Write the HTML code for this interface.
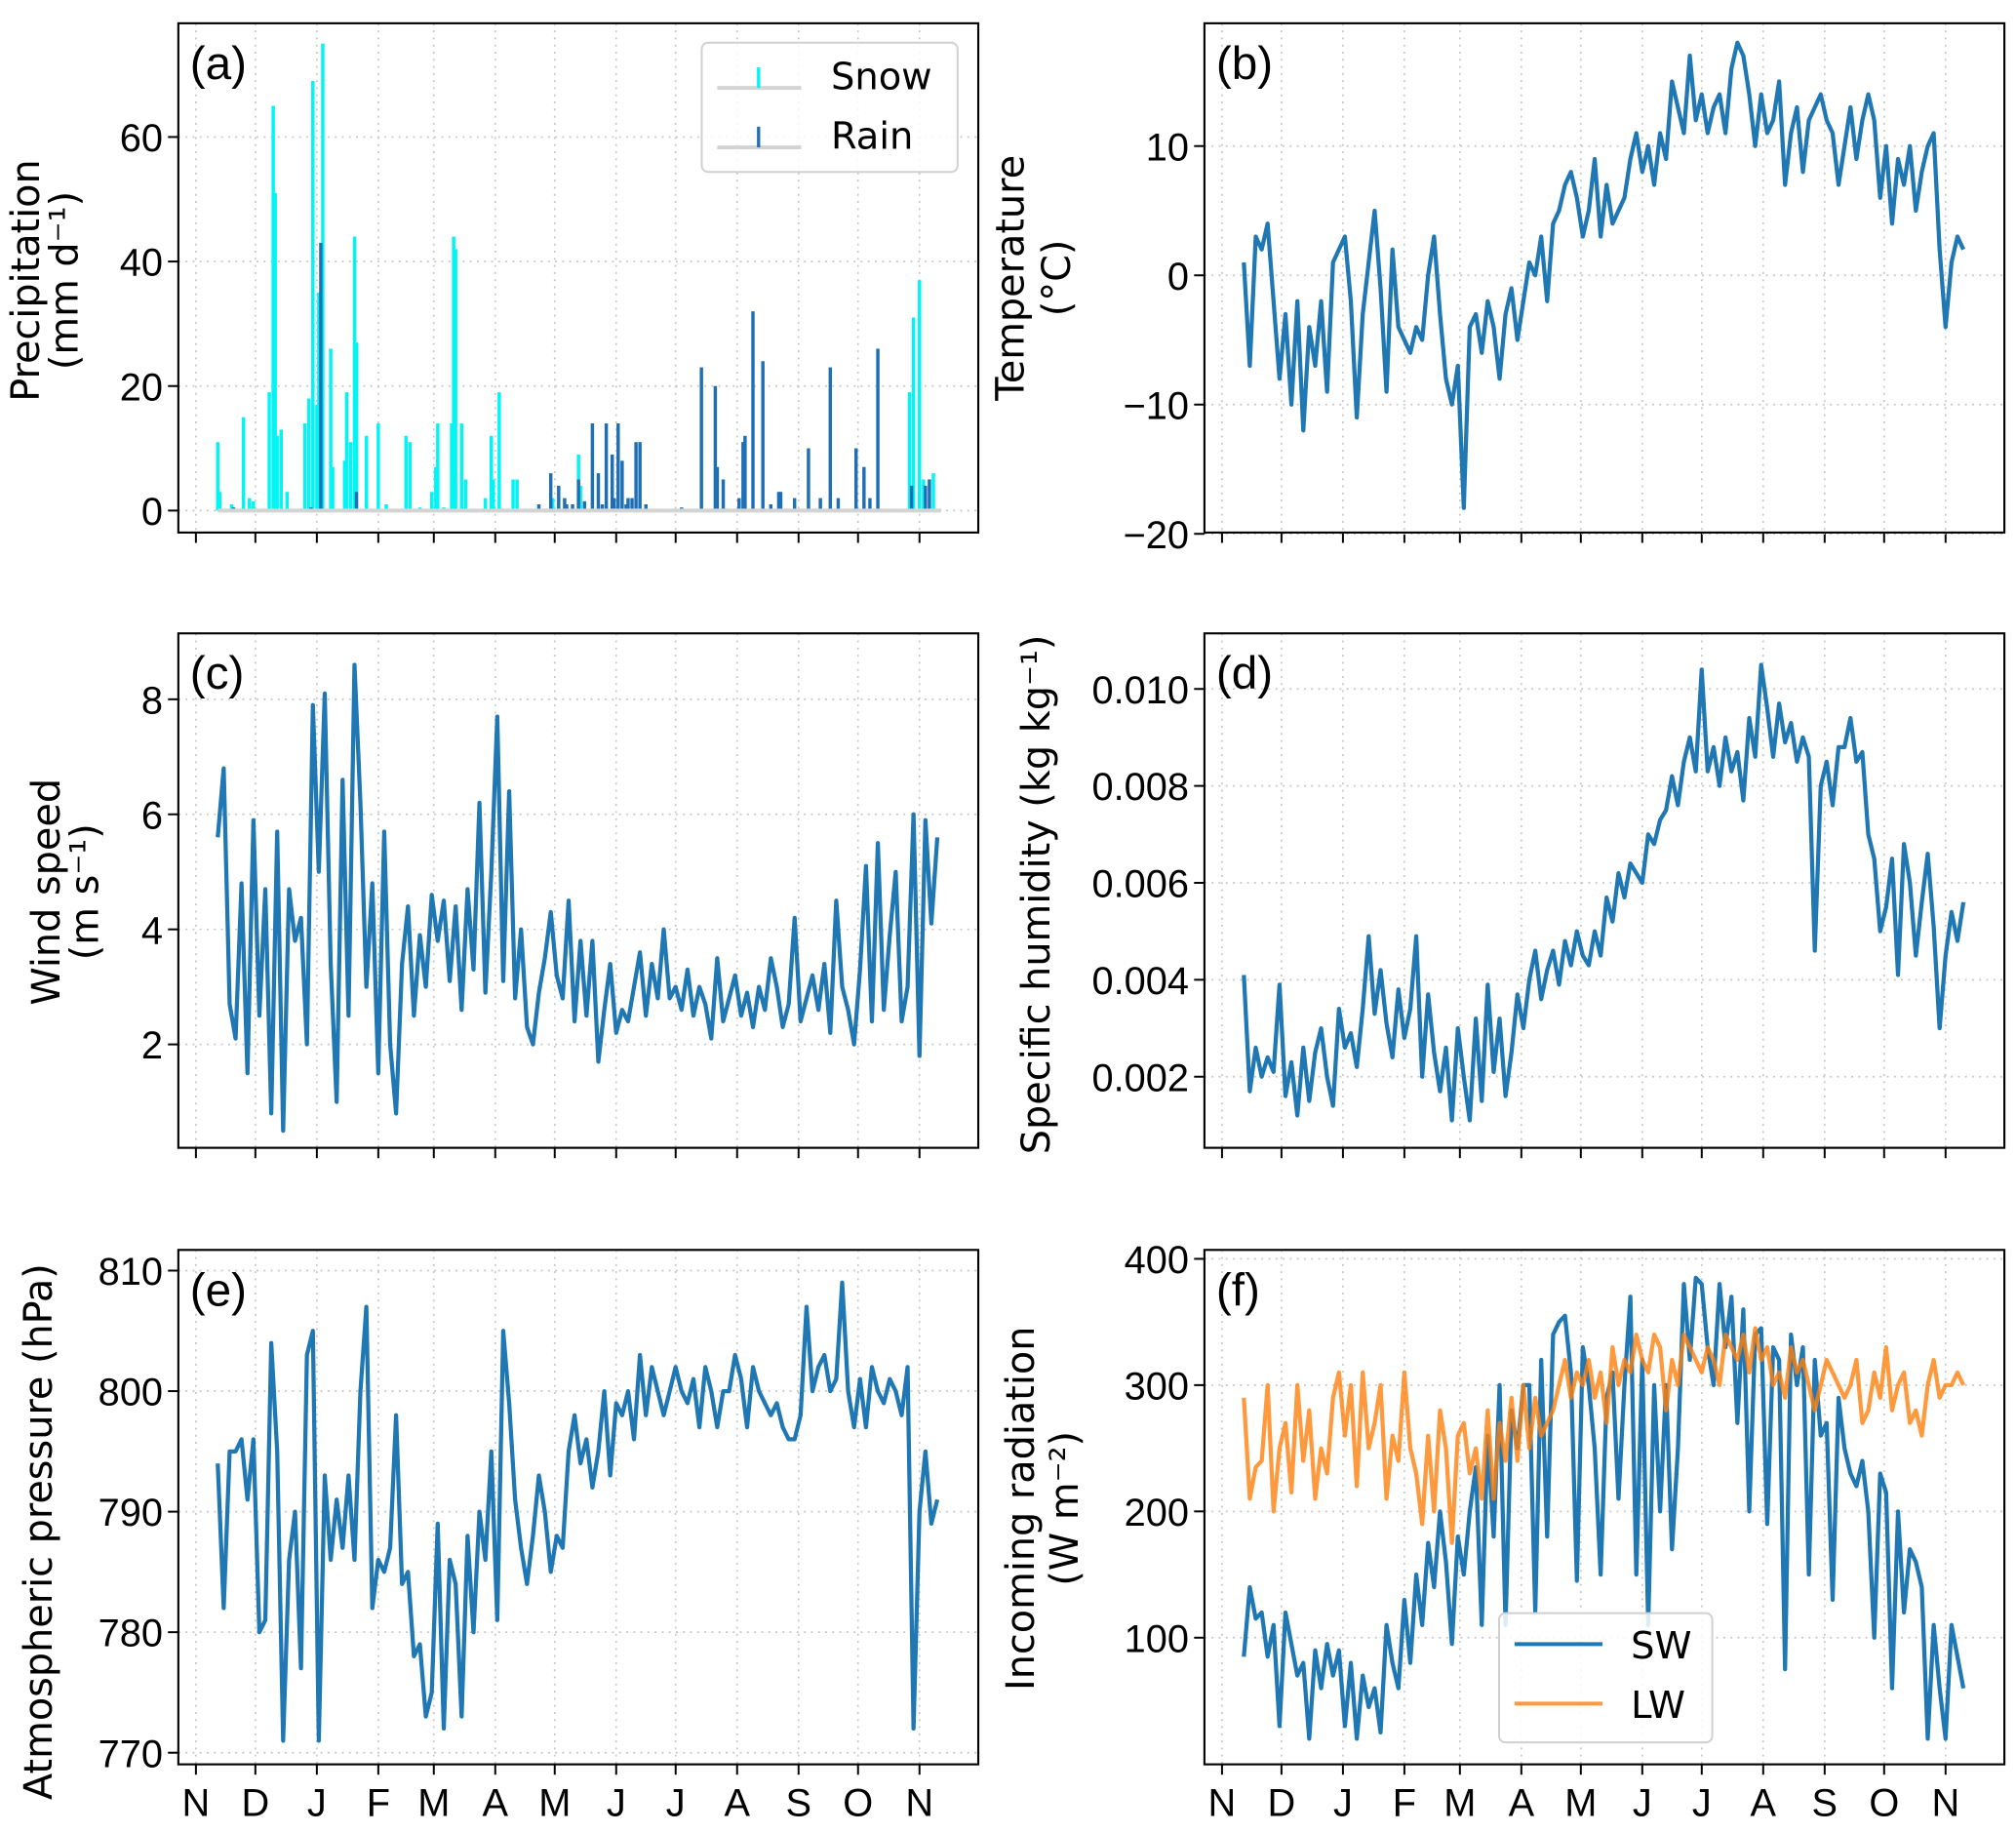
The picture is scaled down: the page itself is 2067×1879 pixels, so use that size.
<!DOCTYPE html>
<html><head><meta charset="utf-8">
<style>
html,body{margin:0;padding:0;background:#fff;}
svg{display:block;}
.tick{font-family:"Liberation Sans",sans-serif;font-size:30px;fill:#000;}
.title{font-family:"DejaVu Sans",sans-serif;font-size:30px;fill:#000;}
.plab{font-family:"Liberation Sans",sans-serif;font-size:36px;fill:#000;}
.leg{font-family:"DejaVu Sans",sans-serif;font-size:29px;fill:#000;}
</style></head>
<body>
<svg id="fig" width="2067" height="1879" viewBox="0 0 1560 1418.1" xmlns="http://www.w3.org/2000/svg"></svg>
<script>
const monthLabels = ["N","D","J","F","M","A","M","J","J","A","S","O","N"];
const monthDays = [0,30,61,92,120,151,181,212,242,273,304,334,365];
const startDay = 11, stepDays = 3;
const temperature = [1,-7,3,2,4,-2,-8,
-3,-10,-2,-12,-4,-7,-2,-9,1,2,
3,-2,-11,-3,1,5,-1,-9,2,-4,
-5,-6,-4,-5,0,3,-3,-8,-10,-7,
-18,-4,-3,-6,-2,-4,-8,-3,-1,-5,
-2,1,0,3,-2,4,5,7,8,6,
3,5,9,3,7,4,5,6,9,11,
8,10,7,11,9,15,13,11,17,12,
14,11,13,14,11,16,18,17,14,10,
14,11,12,15,7,11,13,8,12,13,
14,12,11,7,10,13,9,12,14,12,
6,10,4,9,7,10,5,8,10,11,
2,-4,1,3,2];
const windSpeed = [5.6,6.8,2.7,2.1,4.8,1.5,5.9,
2.5,4.7,0.8,5.7,0.5,4.7,3.8,4.2,2.0,7.9,
5.0,8.1,3.4,1.0,6.6,2.5,8.6,6.2,3.0,4.8,
1.5,5.7,2.0,0.8,3.4,4.4,2.5,3.9,3.0,4.6,
3.8,4.5,3.1,4.4,2.6,4.7,3.3,6.2,2.9,5.0,
7.7,3.1,6.4,2.8,4.0,2.3,2.0,2.9,3.5,4.3,
3.2,2.8,4.5,2.4,3.8,2.5,3.8,1.7,2.6,3.4,
2.2,2.6,2.4,3.0,3.6,2.5,3.4,2.8,4.0,2.8,
3.0,2.6,3.3,2.5,3.0,2.7,2.1,3.5,2.4,2.8,
3.2,2.5,2.9,2.3,3.0,2.6,3.5,3.0,2.3,2.7,
4.2,2.4,2.8,3.2,2.6,3.4,2.2,4.5,3.0,2.6,
2.0,3.3,5.1,2.4,5.5,2.6,3.9,5.0,2.4,3.0,
6.0,1.8,5.9,4.1,5.6];
const humidityGkg = [4.1,1.7,2.6,2.0,2.4,2.1,3.9,
1.6,2.3,1.2,2.6,1.5,2.5,3.0,2.0,1.4,3.4,
2.6,2.9,2.2,3.4,4.9,3.3,4.2,3.1,2.4,3.8,
2.8,3.4,4.9,2.0,3.7,2.5,1.7,2.6,1.1,3.0,
2.0,1.1,3.2,1.5,3.9,2.1,3.2,1.6,2.5,3.7,
3.0,4.0,4.6,3.6,4.2,4.6,3.9,4.8,4.3,5.0,
4.5,4.3,5.0,4.5,5.7,5.2,6.2,5.7,6.4,6.2,
6.0,7.0,6.8,7.3,7.5,8.2,7.6,8.5,9.0,8.3,
10.4,8.3,8.8,8.0,9.0,8.3,8.7,7.7,9.4,8.6,
10.5,9.6,8.6,9.7,8.9,9.3,8.5,9.0,8.6,4.6,
8.0,8.5,7.6,8.8,8.8,9.4,8.5,8.7,7.0,6.5,
5.0,5.5,6.5,4.1,6.8,6.0,4.5,5.6,6.6,5.1,
3.0,4.5,5.4,4.8,5.6];
const pressure = [794,782,795,795,796,791,796,
780,781,804,795,771,786,790,777,803,805,
771,793,786,791,787,793,786,800,807,782,
786,785,787,798,784,785,778,779,773,775,
789,772,786,784,773,788,780,790,786,795,
781,805,799,791,787,784,788,793,790,785,
788,787,795,798,794,796,792,795,800,793,
799,798,800,796,803,798,802,800,798,800,
802,800,799,801,797,802,800,797,800,800,
803,801,797,802,800,799,798,799,797,796,
796,798,807,800,802,803,800,801,809,800,
797,801,797,802,800,799,801,800,798,802,
772,790,795,789,791];
const shortwave = [85,140,115,120,85,110,30,
120,95,70,80,20,90,60,95,70,90,
30,80,20,70,45,60,25,110,80,60,
130,80,150,110,175,140,200,160,95,180,
150,200,235,110,260,180,300,110,280,250,
300,300,120,320,180,340,350,355,310,145,
330,300,250,150,290,310,210,300,370,150,
320,110,300,200,300,170,250,380,320,385,
380,330,300,380,330,370,270,360,200,340,
345,190,330,320,75,340,300,330,150,320,
260,270,130,290,250,230,220,240,200,100,
230,215,60,200,120,170,160,140,20,110,
60,20,110,85,60];
const longwave = [290,210,235,240,300,200,250,
270,215,300,240,280,210,250,230,290,310,
260,300,220,310,250,270,300,210,260,240,
310,250,230,190,260,200,280,250,175,260,
270,230,250,210,280,210,270,240,290,240,
300,250,290,260,270,280,300,320,290,310,
300,320,290,310,270,330,300,320,310,340,
320,310,340,330,280,320,300,340,330,320,
310,330,320,300,340,330,320,340,310,345,
320,330,300,310,290,330,310,320,300,280,
300,320,310,300,290,300,320,270,280,310,
290,330,280,300,310,270,280,260,300,320,
290,300,300,310,300];
const snowDays = [11,12,18,24,27,29,37,39,40,41,43,46,55,57,59,61,62,64,68,69,75,76,78,80,81,86,92,96,106,108,113,119,121,122,125,129,130,131,134,136,146,149,150,153,160,162,180,193,194,360,362,365,367,372];
const snowVals = [11,3,1,15,2,1.5,19,65,51,12,13,3,14,18,69,17,35,75,26,7,8,19,11,44,27,12,14,1,12,11,0.5,3,7,14,0.5,14,44,42,14,5,2,12,5,19,5,5,2,9,4,19,31,37,5,6];
const rainDays = [19,58,63,81,173,179,183,186,187,190,193,196,200,203,205,207,210,211,213,215,217,218,220,222,224,227,245,255,262,263,266,274,276,277,281,286,290,294,295,302,309,315,320,324,333,337,340,344,361,368,370];
const rainVals = [0.5,0.5,43,3,1,6,4,2,1,1,5,1.5,14,6,1,14,9,2,14,8,1,2,2,11,11,1,0.5,23,20,7,5,2,11,12,32,24,1,3,3,2,10,2,23,2,10,7,2,26,4,4,5];
const yTicksA = [0,20,40,60], yTicksB = [10,0,-10,-20], yTicksC = [2,4,6,8];
const yTicksD = [0.002,0.004,0.006,0.008,0.010], yTicksE = [770,780,790,800,810], yTicksF = [100,200,300,400];

const NS = "http://www.w3.org/2000/svg";
const svg = document.getElementById('fig');
function mk(tag, attrs, parent){const e=document.createElementNS(NS,tag);for(const k in attrs)e.setAttribute(k,attrs[k]);(parent||svg).appendChild(e);return e;}
const dayPx = 1.534;
const panels = {
 a:{x0:138,x1:757,y0:18,y1:412,xo:151.6,v0:0,p0:395,k:4.817},
 b:{x0:932,x1:1551,y0:18,y1:412,xo:945.6,v0:0,p0:213,k:10.0},
 c:{x0:138,x1:757,y0:490,y1:888,xo:151.6,v0:2,p0:808,k:44.5},
 d:{x0:932,x1:1551,y0:490,y1:888,xo:945.6,v0:0.002,p0:833,k:37500},
 e:{x0:138,x1:757,y0:967,y1:1365,xo:151.6,v0:770,p0:1356,k:9.325},
 f:{x0:932,x1:1551,y0:967,y1:1365,xo:945.6,v0:100,p0:1267,k:0.977}
};
function xs(p,d){return p.xo+d*dayPx;}
function ys(p,v){return p.p0-(v-p.v0)*p.k;}

function drawFrame(key, ticks, fmt, showMonths){
 const p=panels[key];
 const g=mk('g',{});
 
 
 monthDays.forEach(d=>{
  const x=xs(p,d);
  const gl=mk('line',{x1:x,x2:x,y1:p.y0,y2:p.y1,stroke:'#c8c8c8','stroke-width':1.3,'stroke-dasharray':'1.5,4'},g);
  
  
  const tk=mk('line',{x1:x,x2:x,y1:p.y1,y2:p.y1+8,stroke:'#000','stroke-width':1.5},g);
  
  
 });
 ticks.forEach(v=>{
  const y=ys(p,v);
  const gl=mk('line',{x1:p.x0,x2:p.x1,y1:y,y2:y,stroke:'#c8c8c8','stroke-width':1.3,'stroke-dasharray':'1.5,4'},g);
  
  
  mk('line',{x1:p.x0-8,x2:p.x0,y1:y,y2:y,stroke:'#000','stroke-width':1.5},g);
  const t=mk('text',{x:p.x0-12,y:y+11,'text-anchor':'end',class:'tick'},g);
  t.textContent=fmt(v);
  
  
 });
 if(showMonths){
  monthLabels.forEach((m,i)=>{
   const t=mk('text',{x:xs(p,monthDays[i]),y:p.y1+40,'text-anchor':'middle',class:'tick'},g);
   t.textContent=m;
   
   
  });
 }
 return g;
}
function border(key){
 const p=panels[key];
 const r=mk('rect',{x:p.x0,y:p.y0,width:p.x1-p.x0,height:p.y1-p.y0,fill:'none',stroke:'#000','stroke-width':1.6});
 
 
 const t=mk('text',{x:p.x0+9,y:p.y0+43,class:'plab'});
 t.textContent='('+key+')';
 
 
}
function series(key, vals, color, name, op){
 const p=panels[key];
 const pts=vals.map((v,i)=>xs(p,startDay+i*stepDays).toFixed(1)+','+ys(p,v).toFixed(1)).join(' ');
 const l=mk('polyline',{points:pts,fill:'none',stroke:color,'stroke-width':3.2,'stroke-linejoin':'round',opacity:op||1});
 
 
}
function ytitle(x,y,lines,name){
 const t=mk('text',{class:'title','text-anchor':'middle',transform:'translate('+x+','+y+') rotate(-90)'});
 t.textContent=lines;
 
 
}
const f0=v=>String(v).replace('-','\u2212');
// panel a
drawFrame('a',yTicksA,f0,false);
(function(){
 const p=panels['a'];
 snowDays.forEach((d,i)=>{
  const y=ys(p,snowVals[i]);
  const r=mk('rect',{x:xs(p,d)-1.3,y:y,width:2.6,height:p.p0-y,fill:'#00f5f5'});
  
  
 });
 rainDays.forEach((d,i)=>{
  const y=ys(p,rainVals[i]);
  const r=mk('rect',{x:xs(p,d)-1.3,y:y,width:2.6,height:p.p0-y,fill:'#1f6fb4'});
  
  
 });
 const z=mk('line',{x1:xs(p,startDay),x2:xs(p,376),y1:p.p0,y2:p.p0,stroke:'#d3d3d3','stroke-width':3});
 
 
})();
border('a');
ytitle(30,217,'Precipitation','y-axis-title-a');
ytitle(60,217,'(mm d\u207B\u00B9)','y-axis-unit-a');
(function(){
 const g=mk('g',{});
 
 
 mk('rect',{x:543,y:33,width:198,height:100,rx:5,fill:'#fff','fill-opacity':0.85,stroke:'#d0d0d0','stroke-width':1.5},g);
 mk('line',{x1:555,x2:620,y1:68,y2:68,stroke:'#d3d3d3','stroke-width':3},g);
 mk('line',{x1:587,x2:587,y1:52,y2:68,stroke:'#00f5f5','stroke-width':2.5},g);
 mk('line',{x1:555,x2:620,y1:114,y2:114,stroke:'#d3d3d3','stroke-width':3},g);
 mk('line',{x1:587,x2:587,y1:98,y2:114,stroke:'#1f6fb4','stroke-width':2.5},g);
 const t1=mk('text',{x:643,y:69,class:'leg'},g); t1.textContent='Snow';
 
 
 const t2=mk('text',{x:643,y:115,class:'leg'},g); t2.textContent='Rain';
 
 
})();
drawFrame('b',yTicksB,f0,false);
series('b',temperature,'#1f77b4','temperature-line');
border('b');
ytitle(792,215,'Temperature','y-axis-title-b');
ytitle(828,215,'(\u00B0C)','y-axis-unit-b');
drawFrame('c',yTicksC,f0,false);
series('c',windSpeed,'#1f77b4','wind-speed-line');
border('c');
ytitle(46,690,'Wind speed','y-axis-title-c');
ytitle(76,690,'(m s\u207B\u00B9)','y-axis-unit-c');
drawFrame('d',yTicksD,v=>v.toFixed(3),false);
series('d',humidityGkg.map(v=>v/1000),'#1f77b4','humidity-line');
border('d');
ytitle(812,692,'Specific humidity (kg kg\u207B\u00B9)','y-axis-title-d');
drawFrame('e',yTicksE,f0,true);
series('e',pressure,'#1f77b4','pressure-line');
border('e');
ytitle(40,1185,'Atmospheric pressure (hPa)','y-axis-title-e');
drawFrame('f',yTicksF,f0,true);
series('f',shortwave,'#1f77b4','sw-line');
series('f',longwave,'#ff7f0e','lw-line',0.8);
border('f');
ytitle(800,1167,'Incoming radiation','y-axis-title-f');
ytitle(834,1167,'(W m\u207B\u00B2)','y-axis-unit-f');
(function(){
 const g=mk('g',{});
 
 
 mk('rect',{x:1160,y:1248,width:165,height:100,rx:5,fill:'#fff','fill-opacity':0.85,stroke:'#d0d0d0','stroke-width':1.5},g);
 mk('line',{x1:1172,x2:1240,y1:1272,y2:1272,stroke:'#1f77b4','stroke-width':3},g);
 mk('line',{x1:1172,x2:1240,y1:1318,y2:1318,stroke:'#ff7f0e','stroke-width':3,opacity:0.8},g);
 const t1=mk('text',{x:1262,y:1283,class:'leg'},g); t1.textContent='SW';
 
 
 const t2=mk('text',{x:1262,y:1329,class:'leg'},g); t2.textContent='LW';
 
 
})();
</script>
</body></html>
